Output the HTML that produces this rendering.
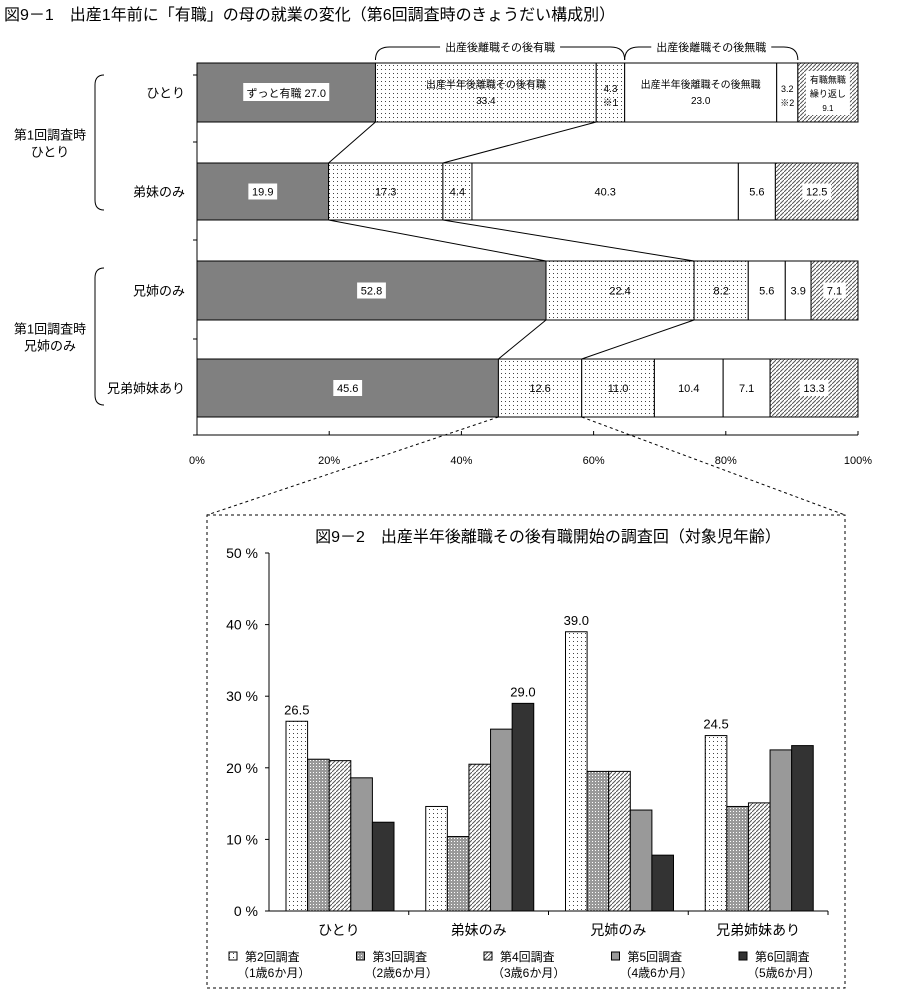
<!DOCTYPE html>
<html><head><meta charset="utf-8"><style>
body{margin:0;background:#fff;}
svg{display:block;font-family:"Liberation Sans","Noto Sans CJK JP",sans-serif;}
</style></head><body>
<svg id="c" width="898" height="999" viewBox="0 0 898 999">
<defs>
<pattern id="dots" width="4" height="4" patternUnits="userSpaceOnUse"><rect width="4" height="4" fill="#fff"/><rect x="1" y="1" width="1" height="1" fill="#444"/></pattern>
<pattern id="dots2" width="3" height="3" patternUnits="userSpaceOnUse"><rect width="3" height="3" fill="#999"/><rect x="1" y="1" width="1" height="1" fill="#fff"/></pattern>
<pattern id="hatch" width="4" height="4" patternUnits="userSpaceOnUse"><rect width="4" height="4" fill="#fff"/><path d="M0,4 L4,0" stroke="#555" stroke-width="1"/></pattern>
</defs>
<text x="4" y="20" font-size="16">図9－1　出産1年前に「有職」の母の就業の変化（第6回調査時のきょうだい構成別）</text>
<g id="topchart"></g>
<g id="botchart"></g>
</svg>
<script>
const rows=["ひとり","弟妹のみ","兄姉のみ","兄弟姉妹あり"];
const s1=[27.0,19.9,52.8,45.6];
const s2=[33.4,17.3,22.4,12.6];
const s3=[4.3,4.4,8.2,11.0];
const s4=[23.0,40.3,5.6,10.4];
const s5=[3.2,5.6,3.9,7.1];
const s6=[9.1,12.5,7.1,13.3];
const xTicks=[0,20,40,60,80,100];

const cats=["ひとり","弟妹のみ","兄姉のみ","兄弟姉妹あり"];
const b2=[26.5,14.6,39.0,24.5];
const b3=[21.2,10.4,19.5,14.6];
const b4=[21.0,20.5,19.5,15.1];
const b5=[18.6,25.4,14.1,22.5];
const b6=[12.4,29.0,7.8,23.1];
const yTicks=[0,10,20,30,40,50];
const seriesNames=["第2回調査","第3回調査","第4回調査","第5回調査","第6回調査"];
const seriesSub=["（1歳6か月）","（2歳6か月）","（3歳6か月）","（4歳6か月）","（5歳6か月）"];
const labeled=[[0,0],[1,4],[2,0],[3,0]];

const NS="http://www.w3.org/2000/svg";
function mk(p,t,a,txt){const e=document.createElementNS(NS,t);for(const k in a)e.setAttribute(k,a[k]);if(txt!==undefined)e.textContent=txt;p.appendChild(e);return e;}
const topG=document.getElementById('topchart'),botG=document.getElementById('botchart');

// top chart
const X0=197,X1=858;const px=v=>X0+(X1-X0)*v/100;
const rowY=[63,163,261,359],rowH=[59,57,59,58];
const fills=["#808080","url(#dots)","url(#dots)","#fff","#fff","url(#hatch)"];
const segs=[s1,s2,s3,s4,s5,s6];
let a=mk(topG,'line',{x1:X0,y1:75,x2:X0,y2:435,stroke:'#000'});


[75,142,240,339,435].forEach(y=>mk(topG,'line',{x1:X0-4,y1:y,x2:X0,y2:y,stroke:'#000'}));
mk(topG,'line',{x1:X0,y1:435,x2:X1,y2:435,stroke:'#000'});
xTicks.forEach(t=>{const x=px(t);mk(topG,'line',{x1:x,y1:431,x2:x,y2:435,stroke:'#000'});
 const e=mk(topG,'text',{x:x,y:464,'font-size':11,'text-anchor':'middle'},t+'%');
 
 });
const starts=[];
rows.forEach((r,i)=>{
 const y=rowY[i],h=rowH[i];let acc=0;const st=[];
 const lab=mk(topG,'text',{x:185,y:y+h/2+5,'font-size':13,'text-anchor':'end'},r);
 
 
 segs.forEach((s,j)=>{const x=px(acc),w=px(acc+s[i])-x;st.push(x);
  const rc=mk(topG,'rect',{x:x,y:y,width:w,height:h,fill:fills[j],stroke:'#000'});
  
  
  acc+=s[i];});
 st.push(px(acc));starts.push(st);
 if(i>0){
  segs.forEach((s,j)=>{const cx=(st[j]+st[j+1])/2,cy=y+h/2;const t=s[i].toFixed(1);
   const tw=t.length*6.2+4;
   if(j==0||j==5) mk(topG,'rect',{x:cx-tw/2,y:cy-8,width:tw,height:16,fill:'#fff'});
   const e=mk(topG,'text',{x:cx,y:cy+4,'font-size':11,'text-anchor':'middle'},t);
   
   });
 }
});
// row 1 labels
{const st=starts[0],y=rowY[0];
 const c0=(st[0]+st[1])/2;mk(topG,'rect',{x:c0-43,y:y+20,width:86,height:18,fill:'#fff'});
 mk(topG,'text',{x:c0,y:y+34,'font-size':11,'text-anchor':'middle'},'ずっと有職 '+s1[0].toFixed(1));
 const c1=(st[1]+st[2])/2;mk(topG,'text',{x:c1,y:y+25,'font-size':10,'text-anchor':'middle'},'出産半年後離職その後有職');
 mk(topG,'text',{x:c1,y:y+41,'font-size':10,'text-anchor':'middle'},s2[0].toFixed(1));
 const c2=(st[2]+st[3])/2;mk(topG,'text',{x:c2,y:y+29,'font-size':10,'text-anchor':'middle'},s3[0].toFixed(1));
 mk(topG,'text',{x:c2,y:y+43,'font-size':10,'text-anchor':'middle'},'※1');
 const c3=(st[3]+st[4])/2;mk(topG,'text',{x:c3,y:y+25,'font-size':10,'text-anchor':'middle'},'出産半年後離職その後無職');
 mk(topG,'text',{x:c3,y:y+41,'font-size':10,'text-anchor':'middle'},s4[0].toFixed(1));
 const c4=(st[4]+st[5])/2;mk(topG,'text',{x:c4,y:y+29,'font-size':9,'text-anchor':'middle'},s5[0].toFixed(1));
 mk(topG,'text',{x:c4,y:y+43,'font-size':9,'text-anchor':'middle'},'※2');
 const c5=(st[5]+st[6])/2;mk(topG,'rect',{x:c5-22,y:y+8,width:44,height:44,fill:'#fff'});
 mk(topG,'text',{x:c5,y:y+20,'font-size':9,'text-anchor':'middle'},'有職無職');
 mk(topG,'text',{x:c5,y:y+34,'font-size':9,'text-anchor':'middle'},'繰り返し');
 mk(topG,'text',{x:c5,y:y+48,'font-size':8,'text-anchor':'middle'},s6[0].toFixed(1));
 const br=(xa,xb,t)=>{const m=(xa+xb)/2;
  mk(topG,'path',{d:`M${xa},60 Q${xa},47 ${xa+14},47 L${m-60},47 M${m+60},47 L${xb-14},47 Q${xb},47 ${xb},60`,fill:'none',stroke:'#000'});
  const e=mk(topG,'text',{x:m,y:51,'font-size':11,'text-anchor':'middle'},t);
  
  };
 br(st[1],st[3],'出産後離職その後有職');br(st[3],st[5],'出産後離職その後無職');
}
// connectors
for(let i=0;i<3;i++){const yb=rowY[i]+rowH[i],yt=rowY[i+1];
 [1,2].forEach(j=>mk(topG,'line',{x1:starts[i][j],y1:yb,x2:starts[i+1][j],y2:yt,stroke:'#000'}));}
mk(topG,'line',{x1:starts[3][1],y1:417,x2:207,y2:515,stroke:'#000','stroke-dasharray':'3,3'});
mk(topG,'line',{x1:starts[3][2],y1:417,x2:845,y2:515,stroke:'#000','stroke-dasharray':'3,3'});
[[75,210,'第1回調査時','ひとり'],[268,405,'第1回調査時','兄姉のみ']].forEach(g=>{
 mk(topG,'path',{d:`M104,${g[0]} Q95,${g[0]} 95,${g[0]+10} L95,${g[1]-10} Q95,${g[1]} 104,${g[1]}`,fill:'none',stroke:'#000'});
 const m=(g[0]+g[1])/2;
 mk(topG,'text',{x:50,y:m-3,'font-size':13,'text-anchor':'middle'},g[2]);
 mk(topG,'text',{x:50,y:m+14,'font-size':13,'text-anchor':'middle'},g[3]);});

// bottom chart
mk(botG,'rect',{x:207,y:515,width:638,height:473,fill:'none',stroke:'#000','stroke-dasharray':'3,3'});
mk(botG,'text',{x:548,y:542,'font-size':16,'text-anchor':'middle'},'図9－2　出産半年後離職その後有職開始の調査回（対象児年齢）');
const L=269,R=828,Y0=911,Y50=553;const py=v=>Y0-(Y0-Y50)*v/50;
mk(botG,'line',{x1:L,y1:Y50,x2:L,y2:Y0,stroke:'#000'});
mk(botG,'line',{x1:L,y1:Y0,x2:R,y2:Y0,stroke:'#000'});
yTicks.forEach(t=>{const y=py(t);mk(botG,'line',{x1:L-4,y1:y,x2:L,y2:y,stroke:'#000'});
 const e=mk(botG,'text',{x:258,y:y+5,'font-size':14,'text-anchor':'end'},t+' %');
 
 });
const gw=(R-L)/cats.length,bw=21.6;
const bfill=["url(#dots)","url(#dots2)","url(#hatch)","#999","#333"];
const bs=[b2,b3,b4,b5,b6];
cats.forEach((c,i)=>{const gx=L+gw*i;
 mk(botG,'line',{x1:gx+gw,y1:Y0,x2:gx+gw,y2:Y0+4,stroke:'#000'});
 const e=mk(botG,'text',{x:gx+gw/2,y:Y0+24,'font-size':14,'text-anchor':'middle'},c);
 
 
 bs.forEach((s,j)=>{const x=gx+17+bw*j,y=py(s[i]);
  const r=mk(botG,'rect',{x:x,y:y,width:bw,height:Y0-y,fill:bfill[j],stroke:'#000'});
  
  });
});
labeled.forEach(([i,j])=>{const x=L+gw*i+17+bw*j+bw/2;
 const e=mk(botG,'text',{x:x,y:py(bs[j][i])-7,'font-size':13,'text-anchor':'middle'},bs[j][i].toFixed(1));
 
 });
seriesNames.forEach((n,j)=>{const x=229+127.5*j;
 const g=mk(botG,'g',{});
 
 
 mk(g,'rect',{x:x,y:952,width:8,height:8,fill:bfill[j],stroke:'#000'});
 mk(g,'text',{x:x+16,y:961,'font-size':12},n);
 mk(g,'text',{x:x+8,y:977,'font-size':12},seriesSub[j]);});
</script>
</body></html>
